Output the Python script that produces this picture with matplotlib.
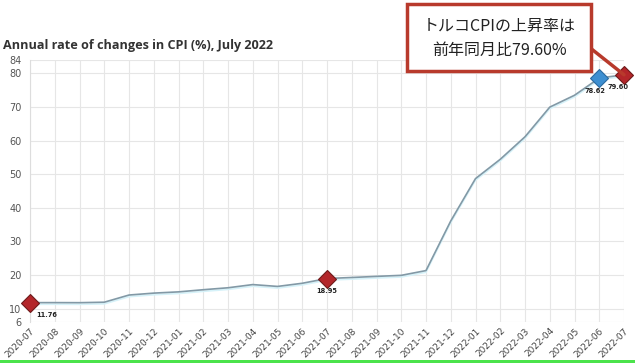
import matplotlib
matplotlib.use("Agg")
import matplotlib.pyplot as plt
import matplotlib.patheffects as pe
from matplotlib.patches import Rectangle

months = ["2020-07", "2020-08", "2020-09", "2020-10", "2020-11", "2020-12",
          "2021-01", "2021-02", "2021-03", "2021-04", "2021-05", "2021-06",
          "2021-07", "2021-08", "2021-09", "2021-10", "2021-11", "2021-12",
          "2022-01", "2022-02", "2022-03", "2022-04", "2022-05", "2022-06",
          "2022-07"]
cpi = [11.76, 11.77, 11.75, 11.89, 14.03, 14.60, 14.97, 15.61, 16.19, 17.14,
       16.59, 17.53, 18.95, 19.25, 19.58, 19.89, 21.31, 36.08, 48.69, 54.44,
       61.14, 69.97, 73.50, 78.62, 79.60]
yticks = [6, 10, 20, 30, 40, 50, 60, 70, 80, 84]
red_idx = [0, 12, 24]
blue_idx = [23]

title = "Annual rate of changes in CPI (%), July 2022"
callout = "トルコCPIの上昇率は\n前年同月比79.60%"

W, H = 635, 363
fig = plt.figure(figsize=(W / 100, H / 100), dpi=100)
ax = fig.add_axes([30 / W, 1 - 322 / H, (624 - 30) / W, (322 - 60) / H])

x = list(range(len(months)))
ax.plot(x, cpi, color="#8299a6", lw=1.2, zorder=3,
        path_effects=[pe.SimpleLineShadow(offset=(0, -1.2), shadow_color="#d6f2f9", alpha=1),
                      pe.Normal()])

for i in red_idx:
    ax.plot(x[i], cpi[i], marker="D", ms=9, color="#b3262a", mec="#6e1a1a", mew=0.8, zorder=5, clip_on=False)
for i in blue_idx:
    ax.plot(x[i], cpi[i], marker="D", ms=9, color="#3d8fd1", mec="#2a6aa0", mew=0.8, zorder=5, clip_on=False)

lab_kw = dict(fontsize=4.8, fontweight="bold", color="#222222", zorder=6,
              textcoords="offset pixels", va="center")
ax.annotate(f"{cpi[0]:.2f}", (x[0], cpi[0]), xytext=(6, -12), ha="left", **lab_kw)
ax.annotate(f"{cpi[12]:.2f}", (x[12], cpi[12]), xytext=(0, -12), ha="center", **lab_kw)
ax.annotate(f"{cpi[23]:.2f}", (x[23], cpi[23]), xytext=(-4, -13), ha="center", **lab_kw)
ax.annotate(f"{cpi[24]:.2f}", (x[24], cpi[24]), xytext=(-6, -12), ha="center", **lab_kw)

ax.set_xlim(0, len(months) - 1)
ax.set_ylim(6, 84)
ax.set_yticks(yticks)
ax.set_yticklabels([str(v) for v in yticks], fontsize=7, color="#555555")
ax.set_xticks(x)
ax.set_xticklabels(months, rotation=45, ha="right", rotation_mode="anchor", fontsize=6.5, color="#444444")
ax.tick_params(axis="y", length=0, pad=6)
ax.tick_params(axis="x", length=0, pad=3)
ax.grid(True, color="#e6e6e6", lw=0.8)
ax.set_axisbelow(True)
for s in ["top", "right", "bottom"]:
    ax.spines[s].set_visible(False)
ax.spines["left"].set_color("#dddddd")

fig.text(3 / W, 1 - 45 / H, title, fontsize=9.1, fontweight="bold", color="#333333",
         ha="left", va="center", family="Open Sans")

# callout box
fig.patches.append(Rectangle((407 / W, 1 - 71 / H), (591 - 407) / W, (71 - 4) / H,
                             transform=fig.transFigure, facecolor="white",
                             edgecolor="#b83a2c", lw=2.5, zorder=10))
fig.text(499 / W, 1 - 38.5 / H, callout, fontsize=11.5, ha="center", va="center",
         linespacing=1.55, color="#222222", zorder=11,
         family=["Noto Sans CJK JP", "DejaVu Sans"])
ax.annotate("", xy=(x[24], cpi[24]), xycoords="data",
            xytext=(589, H - 47), textcoords="figure pixels",
            arrowprops=dict(arrowstyle="-", color="#b83a2c", lw=2.5, shrinkA=0, shrinkB=0),
            zorder=9, annotation_clip=False)

# green bottom line
fig.patches.append(Rectangle((0, 0), 1, 3 / H, transform=fig.transFigure,
                             facecolor="#4be34b", edgecolor="none", zorder=10))

fig.savefig("out.png", dpi=100)
